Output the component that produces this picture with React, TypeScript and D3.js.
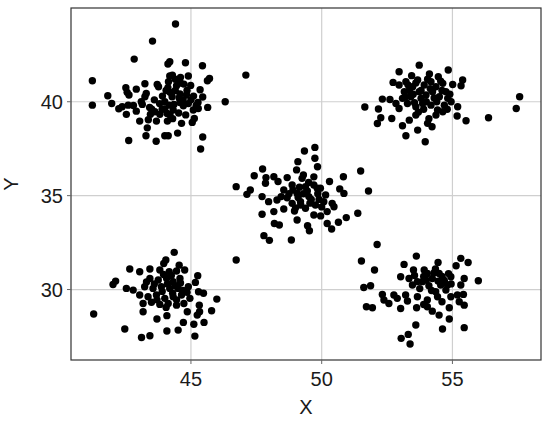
import React from "react";
import * as d3 from "d3";

// points, one array per cluster: [x, y]
const clusterNW: [number, number][] = [
  [44.41, 44.14], [43.53, 43.23], [42.83, 42.27], [44.12, 42.01], [44.19, 42.13],
  [44.79, 42.08], [45.44, 41.92], [41.23, 41.12], [45.71, 41.24], [45.63, 41.12],
  [44.19, 41.37], [44.29, 41.42], [44.6, 41.3], [44.9, 41.37], [43.24, 40.96],
  [43.71, 40.92], [43.76, 40.8], [44.14, 41.07], [44.12, 40.75], [44.73, 40.94],
  [44.99, 40.87], [42.51, 40.75], [42.91, 40.67], [42.56, 40.5], [42.63, 40.36],
  [43.29, 40.44], [43.24, 40.27], [43.91, 40.3], [44.28, 40.27], [44.58, 40.41],
  [44.83, 40.36], [45.35, 40.64], [45.45, 40.25], [41.82, 40.32], [41.97, 39.91],
  [41.23, 39.82], [46.31, 40.0], [42.24, 39.63], [42.37, 39.73], [42.6, 39.82],
  [42.53, 39.33], [42.91, 39.5], [43.14, 39.86], [43.42, 39.7], [43.45, 39.33],
  [43.62, 39.47], [43.81, 39.33], [44.0, 39.61], [44.09, 39.38], [44.17, 39.82],
  [44.32, 39.56], [44.58, 39.96], [44.71, 39.79], [44.53, 39.4], [45.09, 39.56],
  [45.28, 39.64], [45.64, 39.7], [45.27, 39.96], [43.04, 38.97], [43.37, 39.04],
  [43.68, 38.97], [44.1, 38.97], [44.64, 38.85], [45.05, 38.9], [45.13, 39.11],
  [43.33, 38.61], [43.28, 38.19], [42.62, 37.94], [43.67, 37.9], [44.0, 38.19],
  [44.13, 38.19], [44.49, 38.33], [45.45, 38.12], [45.37, 37.48], [47.1, 41.42],
  [44.4, 40.6], [44.7, 40.1], [44.0, 40.0], [43.6, 40.1], [44.9, 39.9],
  [44.3, 39.1], [43.9, 39.6], [44.6, 41.0], [45.1, 40.3], [43.1, 40.0],
  [42.8, 39.8], [44.2, 40.5], [44.45, 40.85], [44.85, 40.6], [44.35, 39.85],
  [43.8, 39.9], [44.55, 40.2], [45.0, 40.1], [44.05, 40.6], [44.8, 39.3],
  [43.5, 39.6], [44.4, 41.2], [45.2, 39.8], [44.2, 39.3],
];

const clusterNE: [number, number][] = [
  [53.73, 41.95], [52.96, 41.6], [53.44, 41.39], [54.12, 41.48], [54.46, 41.33],
  [54.84, 41.69], [55.39, 41.16], [55.33, 40.85], [55.01, 40.92], [52.73, 41.03],
  [52.96, 40.89], [53.22, 41.07], [53.48, 40.8], [53.67, 41.16], [53.92, 40.89],
  [54.18, 41.07], [54.37, 40.8], [54.63, 40.98], [54.75, 40.53], [53.16, 40.53],
  [53.41, 40.27], [53.73, 40.53], [53.99, 40.36], [54.24, 40.53], [54.5, 40.27],
  [54.82, 40.18], [53.09, 40.18], [52.32, 40.14], [52.61, 40.12], [52.84, 39.91],
  [53.28, 39.91], [53.6, 39.73], [53.86, 39.91], [54.18, 39.82], [54.43, 39.56],
  [54.69, 39.82], [54.95, 40.0], [55.2, 39.73], [55.18, 39.24], [55.52, 38.99],
  [56.38, 39.15], [57.44, 39.64], [57.57, 40.27], [51.65, 39.72], [52.17, 39.61],
  [52.26, 39.15], [52.13, 38.84], [52.68, 39.11], [53.09, 38.72], [53.35, 39.02],
  [53.6, 39.29], [53.67, 38.49], [53.22, 38.19], [54.05, 38.85], [54.22, 38.67],
  [53.96, 37.87], [54.37, 39.29], [54.63, 39.47], [52.96, 39.64], [53.8, 40.18],
  [53.8, 40.6], [54.0, 40.0], [53.5, 40.4], [54.4, 40.0], [53.3, 40.9],
  [54.6, 40.6], [53.6, 41.0], [54.05, 41.2], [54.3, 40.2], [53.9, 39.6],
  [54.15, 40.7], [53.35, 40.6], [54.55, 41.1], [53.55, 39.95], [54.8, 39.6],
  [53.7, 39.45], [54.1, 39.1], [53.2, 40.25], [54.9, 40.4],
];

const clusterMid: [number, number][] = [
  [49.34, 37.38], [49.74, 37.57], [49.74, 36.99], [49.09, 36.81], [49.84, 36.54],
  [49.04, 36.37], [51.49, 36.31], [47.74, 36.42], [47.42, 36.06], [47.87, 35.96],
  [48.17, 36.01], [48.68, 35.96], [49.25, 35.92], [50.83, 36.01], [50.3, 35.75],
  [47.85, 35.66], [48.33, 35.75], [48.87, 35.57], [49.38, 35.48], [49.7, 35.57],
  [49.83, 35.39], [46.73, 35.48], [47.27, 35.3], [47.14, 35.07], [51.79, 35.25],
  [50.69, 35.36], [50.85, 35.12], [48.55, 35.3], [49.06, 35.12], [49.51, 34.95],
  [50.15, 35.04], [47.72, 34.95], [47.97, 34.68], [48.29, 34.77], [48.68, 34.89],
  [48.87, 34.59], [49.19, 34.68], [49.38, 34.33], [49.76, 34.5], [50.08, 34.68],
  [50.4, 34.59], [50.21, 34.15], [50.47, 34.41], [48.17, 34.15], [48.55, 34.29],
  [48.96, 34.18], [47.72, 34.01], [49.7, 33.97], [49.96, 33.92], [49.06, 33.7],
  [49.46, 33.4], [49.53, 33.13], [48.19, 33.52], [48.38, 33.44], [50.21, 33.52],
  [50.38, 33.22], [50.64, 33.58], [50.94, 33.83], [51.38, 34.06], [47.79, 32.87],
  [48.0, 32.62], [48.84, 32.64], [46.73, 31.57], [49.3, 35.1], [49.6, 34.8],
  [49.1, 34.9], [49.9, 34.8], [48.9, 35.3], [49.5, 35.7], [49.7, 36.0],
  [49.2, 34.5], [49.45, 35.25], [49.85, 35.1], [49.0, 34.35], [49.55, 34.6],
  [48.75, 35.1], [49.95, 35.4], [49.3, 36.1], [49.15, 35.45], [48.45, 34.95],
  [50.0, 34.4],
];

const clusterSW: [number, number][] = [
  [44.36, 31.98], [44.04, 31.57], [43.96, 31.39], [42.66, 31.09], [43.04, 30.95],
  [43.43, 31.09], [43.81, 31.04], [44.17, 30.95], [44.45, 30.99], [44.76, 31.04],
  [45.26, 30.74], [42.12, 30.45], [42.02, 30.27], [43.43, 30.59], [43.75, 30.51],
  [44.07, 30.59], [44.32, 30.42], [44.58, 30.59], [45.17, 30.38], [42.53, 30.06],
  [42.79, 29.97], [43.23, 30.15], [43.55, 30.06], [43.87, 30.15], [44.19, 30.06],
  [44.51, 30.06], [44.9, 30.15], [45.29, 29.88], [45.48, 29.8], [43.04, 29.71],
  [43.36, 29.62], [43.68, 29.71], [44.0, 29.53], [44.32, 29.62], [44.64, 29.71],
  [44.96, 29.53], [45.99, 29.49], [43.17, 29.26], [43.49, 29.32], [43.81, 29.21],
  [44.13, 29.26], [44.45, 29.17], [44.73, 29.26], [45.32, 29.17], [44.86, 28.82],
  [45.24, 28.64], [45.79, 28.87], [43.17, 28.82], [41.28, 28.7], [43.7, 28.43],
  [44.08, 28.61], [44.71, 28.25], [45.11, 28.15], [45.5, 28.25], [42.47, 27.9],
  [43.11, 27.45], [43.43, 27.54], [44.08, 27.79], [44.51, 27.84], [45.15, 27.52],
  [45.33, 28.82], [44.1, 30.3], [43.9, 29.9], [44.4, 30.2], [43.6, 30.3],
  [44.3, 29.8], [44.25, 30.75], [44.6, 30.35], [43.95, 30.8], [44.7, 29.95],
  [43.3, 30.4], [44.05, 29.05], [44.45, 29.45], [43.7, 29.45], [44.85, 29.85],
  [44.55, 31.3],
];

const clusterSE: [number, number][] = [
  [52.12, 32.4], [51.52, 31.52], [52.02, 31.04], [53.62, 31.78], [53.15, 31.34],
  [53.51, 31.04], [53.92, 31.04], [54.45, 31.44], [55.32, 31.66], [55.6, 31.44],
  [55.14, 31.27], [53.02, 30.68], [53.34, 30.59], [53.66, 30.42], [54.04, 30.86],
  [54.23, 30.59], [54.49, 30.86], [54.68, 30.5], [54.94, 30.68], [54.55, 30.24],
  [54.81, 30.24], [55.45, 30.59], [55.99, 30.47], [55.32, 30.24], [53.85, 30.42],
  [53.47, 30.24], [51.61, 30.11], [51.87, 30.2], [52.32, 29.74], [52.38, 29.44],
  [52.76, 29.71], [52.89, 29.53], [53.28, 29.39], [53.21, 29.71], [53.66, 29.62],
  [54.04, 29.44], [54.43, 29.62], [54.94, 29.62], [55.19, 29.71], [55.42, 29.74],
  [55.26, 29.35], [51.71, 29.08], [51.94, 29.03], [52.57, 29.26], [53.02, 28.99],
  [53.63, 29.03], [54.04, 29.08], [54.23, 28.85], [54.49, 28.64], [54.88, 29.03],
  [55.45, 29.17], [54.88, 28.43], [53.6, 28.11], [54.62, 27.9], [55.45, 27.97],
  [53.04, 27.4], [53.31, 27.61], [53.38, 27.1], [54.36, 29.88], [54.75, 29.97],
  [54.3, 30.9], [54.6, 30.7], [54.1, 30.2], [54.7, 30.4], [53.9, 30.7],
  [54.45, 30.45], [54.85, 30.85], [54.2, 29.95], [53.75, 30.05], [54.95, 30.3],
  [54.35, 31.1], [54.0, 30.5], [53.55, 30.75], [54.6, 29.35], [53.9, 29.2],
];

const xTicks = [45, 50, 55];
const yTicks = [30, 35, 40];

const W = 550;
const H = 422;
const M = { left: 71, right: 9, top: 8, bottom: 62 };

// ggplot-style 5% expansion of the data range
const expand = (ext: [number, number]): [number, number] => {
  const pad = (ext[1] - ext[0]) * 0.05;
  return [ext[0] - pad, ext[1] + pad];
};

export default function App() {
  const points = [...clusterNW, ...clusterNE, ...clusterMid, ...clusterSW, ...clusterSE];
  const x = d3
    .scaleLinear()
    .domain(expand(d3.extent(points, (d) => d[0]) as [number, number]))
    .range([M.left, W - M.right]);
  const y = d3
    .scaleLinear()
    .domain(expand(d3.extent(points, (d) => d[1]) as [number, number]))
    .range([H - M.bottom, M.top]);

  const font = "'Liberation Sans', Arial, sans-serif";
  const x0 = M.left, x1 = W - M.right, y0 = M.top, y1 = H - M.bottom;

  return (
    <svg width={W} height={H} style={{ position: "absolute", left: 0, top: 0, background: "#fff" }}>
      <g>
        {xTicks.map((t) => (
          <line key={"gx" + t} x1={x(t)} x2={x(t)} y1={y0} y2={y1} stroke="#cfcfcf" strokeWidth={1.2} />
        ))}
        {yTicks.map((t) => (
          <line key={"gy" + t} x1={x0} x2={x1} y1={y(t)} y2={y(t)} stroke="#cfcfcf" strokeWidth={1.2} />
        ))}
      </g>
      <g>
        {points.map((d, i) => (
          <circle key={i} cx={x(d[0])} cy={y(d[1])} r={3.7} fill="#000" />
        ))}
      </g>
      <rect x={x0} y={y0} width={x1 - x0} height={y1 - y0} fill="none" stroke="#333" strokeWidth={1.2} />
      <g fontFamily={font} fontSize={20} fill="#1a1a1a">
        {xTicks.map((t) => (
          <g key={"tx" + t}>
            <line x1={x(t)} x2={x(t)} y1={y1} y2={y1 + 4} stroke="#666" />
            <text x={x(t)} y={y1 + 26} textAnchor="middle">{t}</text>
          </g>
        ))}
        {yTicks.map((t) => (
          <g key={"ty" + t}>
            <line x1={x0 - 4} x2={x0} y1={y(t)} y2={y(t)} stroke="#666" />
            <text x={x0 - 8} y={y(t) + 7} textAnchor="end">{t}</text>
          </g>
        ))}
        <text x={(x0 + x1) / 2} y={414} textAnchor="middle">X</text>
        <text transform={`translate(18, ${(y0 + y1) / 2}) rotate(-90)`} textAnchor="middle">Y</text>
      </g>
    </svg>
  );
}
